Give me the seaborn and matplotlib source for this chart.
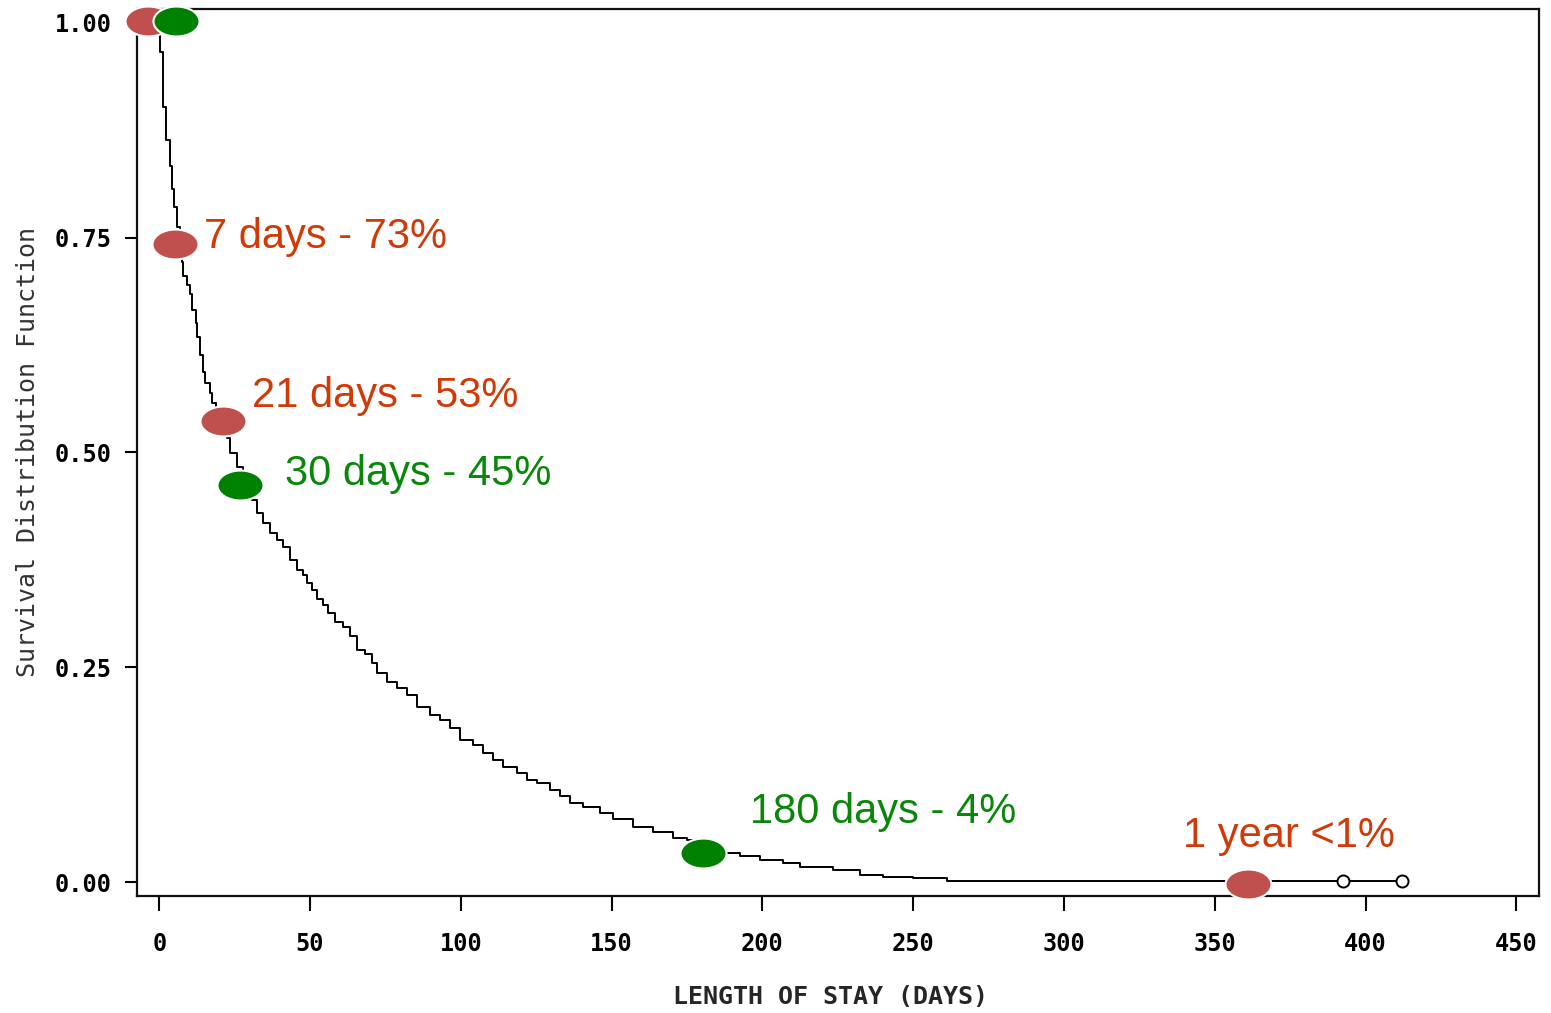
import numpy as np
import matplotlib
matplotlib.use('Agg')
import matplotlib.pyplot as plt
from matplotlib.path import Path
from matplotlib.transforms import Affine2D
import seaborn as sns

# Kaplan-Meier style survival curve
days = [0, 0.2, 1.2, 2.2, 3.5, 4.2, 4.9, 6.0, 6.9, 7.5, 8.0, 9.2, 10.2, 10.8,
        12.2, 12.5, 13.5, 14.5, 15.2, 16.8, 17.5, 18.8, 20.5, 22.5, 23.4,
        25.7, 27.7, 30.6, 32.5, 34.5, 36.7, 38.9, 41.1, 43.3, 45.6, 47.8,
        48.9, 50.5, 52.2, 54.4, 56.0, 58.3, 61.0, 63.2, 65.5, 68.2, 70.4,
        72.1, 75.4, 78.7, 82.0, 85.4, 89.8, 93.1, 96.4, 99.7, 104.1, 107.3,
        110.7, 114.0, 118.6, 121.9, 125.2, 129.5, 132.8, 136.2, 140.5, 146.1,
        150.4, 157.1, 163.7, 170.4, 175.0, 177.6, 192.6, 199.2, 206.8, 212.4,
        223.4, 232.3, 240.0, 249.9, 261.2, 282.0, 412.1]
survival = [1.0, 0.966, 0.902, 0.864, 0.833, 0.806, 0.785, 0.762, 0.742, 0.722,
            0.705, 0.695, 0.684, 0.666, 0.651, 0.634, 0.613, 0.594, 0.581,
            0.569, 0.558, 0.544, 0.530, 0.517, 0.499, 0.483, 0.462, 0.445,
            0.429, 0.418, 0.406, 0.398, 0.390, 0.375, 0.363, 0.357, 0.348,
            0.340, 0.330, 0.323, 0.313, 0.303, 0.297, 0.286, 0.270, 0.266,
            0.255, 0.243, 0.233, 0.226, 0.218, 0.204, 0.195, 0.189, 0.179,
            0.166, 0.160, 0.150, 0.142, 0.134, 0.127, 0.119, 0.116, 0.107,
            0.100, 0.092, 0.087, 0.081, 0.073, 0.064, 0.058, 0.051, 0.049,
            0.034, 0.030, 0.026, 0.022, 0.018, 0.014, 0.0086, 0.0062, 0.005,
            0.0015, 0.001, 0.001]

censored_days = [392.5, 412.1]
censored_surv = [0.001, 0.001]

# highlighted points
red_days = [-3.7, 5.2, 21.1, 361.0]
red_surv = [1.002, 0.742, 0.537, -0.002]
green_days = [5.5, 26.8, 180.3]
green_surv = [1.002, 0.462, 0.034]

red_labels = ['7 days - 73%', '21 days - 53%', '1 year <1%']
red_label_x = [14.8, 30.8, 339.4]
red_label_y = [0.738, 0.553, 0.041]
green_labels = ['30 days - 45%', '180 days - 4%']
green_label_x = [41.7, 195.9]
green_label_y = [0.462, 0.069]

x_ticks = [0, 50, 100, 150, 200, 250, 300, 350, 400, 450]
y_ticks = [0.0, 0.25, 0.5, 0.75, 1.0]
y_tick_labels = ['0.00', '0.25', '0.50', '0.75', '1.00']

MARKER_RED = '#C0504D'
MARKER_GREEN = '#008000'
TEXT_RED = '#CF3A08'
TEXT_GREEN = '#0A870A'

sns.set_theme(style='ticks')
plt.rcParams['font.family'] = ['DejaVu Sans Mono', 'DejaVu Sans']

fig = plt.figure(figsize=(15.51, 10.13), dpi=100)
ax = fig.add_axes([0.0881, 0.1155, 0.9042, 0.8761])

sns.lineplot(x=days, y=survival, drawstyle='steps-post', color='black',
             linewidth=1.4, estimator=None, ax=ax, zorder=3)
sns.scatterplot(x=censored_days, y=censored_surv, marker='o', s=75,
                facecolor='white', edgecolor='black', linewidth=1.4,
                ax=ax, zorder=4)

ellipse = Path.unit_circle().transformed(Affine2D().scale(1.0, 0.65))
sns.scatterplot(x=red_days, y=red_surv, marker=ellipse, s=1100,
                color=MARKER_RED, edgecolor='white', linewidth=1.5,
                ax=ax, zorder=6, clip_on=False)
sns.scatterplot(x=green_days, y=green_surv, marker=ellipse, s=1100,
                color=MARKER_GREEN, edgecolor='white', linewidth=1.5,
                ax=ax, zorder=7, clip_on=False)

for txt, tx, ty in zip(red_labels, red_label_x, red_label_y):
    ax.text(tx, ty, txt, color=TEXT_RED, fontsize=30, family='Liberation Sans',
            ha='left', va='baseline', zorder=8)
for txt, tx, ty in zip(green_labels, green_label_x, green_label_y):
    ax.text(tx, ty, txt, color=TEXT_GREEN, fontsize=30, family='Liberation Sans',
            ha='left', va='baseline', zorder=8)

ax.set_xlim(-7.5, 457.5)
ax.set_ylim(-0.016, 1.0165)
ax.set_xticks(x_ticks)
ax.set_xticklabels([str(v) for v in x_ticks])
ax.set_yticks(y_ticks)
ax.set_yticklabels(y_tick_labels)

for side in ['top', 'right', 'left', 'bottom']:
    ax.spines[side].set_visible(True)
    ax.spines[side].set_linewidth(1.6)
    ax.spines[side].set_color('#111111')

ax.tick_params(axis='x', direction='out', length=11, width=1.5, pad=15,
               labelsize=17, colors='black')
ax.tick_params(axis='y', direction='out', length=9, width=1.5, pad=9,
               labelsize=17, colors='black')
for lab in ax.get_xticklabels() + ax.get_yticklabels():
    lab.set_fontweight('bold')
    lab.set_family('DejaVu Sans Mono')

ax.set_xlabel('LENGTH OF STAY (DAYS)', fontsize=18, fontweight='bold',
              family='DejaVu Sans Mono', va='center')
ax.xaxis.set_label_coords(0.495, -0.1138)
ax.set_ylabel('Survival Distribution Function', fontsize=18,
              family='DejaVu Sans Mono', color='#333333', va='center')
ax.yaxis.set_label_coords(-0.0775, 0.5)

fig.savefig('out.png', dpi=100)
